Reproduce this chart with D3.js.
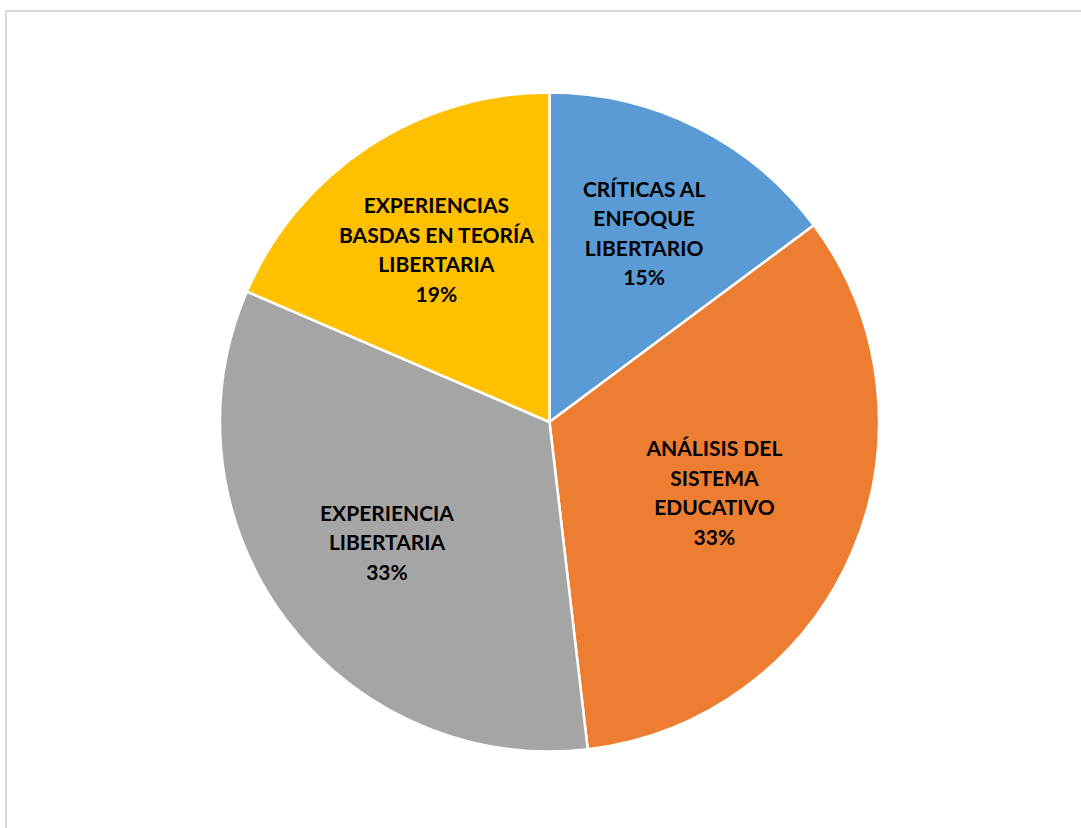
<!DOCTYPE html>
<html><head><meta charset="utf-8">
<script src="https://cdn.jsdelivr.net/npm/d3@7"></script>
<style>body{margin:0;background:#fff}svg{display:block}</style>
</head><body>
<svg id="c" width="1081" height="828"></svg>
<script>
const categories = ["CRÍTICAS AL ENFOQUE LIBERTARIO","ANÁLISIS DEL SISTEMA EDUCATIVO","EXPERIENCIA LIBERTARIA","EXPERIENCIAS BASDAS EN TEORÍA LIBERTARIA"];
const labelLines = [["CRÍTICAS AL","ENFOQUE","LIBERTARIO"],["ANÁLISIS DEL","SISTEMA","EDUCATIVO"],["EXPERIENCIA","LIBERTARIA"],["EXPERIENCIAS","BASDAS EN TEORÍA","LIBERTARIA"]];
const values = [8, 18, 18, 10];
const colors = ["#5B9BD5","#ED7D31","#A5A5A5","#FFC000"];

const svg = d3.select("#c");
svg.append("rect").attr("x",6).attr("y",11).attr("width",1100).attr("height",850)
  .attr("fill","#fff").attr("stroke","#d9d9d9").attr("stroke-width",2);

const cx = 549.5, cy = 422, R = 329.5;
const labelR = [0.64, 0.545, 0.615, 0.625];
const g = svg.append("g").attr("transform",`translate(${cx},${cy})`);
const pie = d3.pie().sort(null).value(d=>d)(values);
const arc = d3.arc().innerRadius(0).outerRadius(R);
g.selectAll("path").data(pie).join("path").attr("d",arc)
  .attr("fill",(d,i)=>colors[i]).attr("stroke","#fff").attr("stroke-width",2.5).attr("stroke-linejoin","round");

const total = d3.sum(values);
const lh = 29.6;
pie.forEach((d,i)=>{
  const r = R*labelR[i];
  const c = d3.arc().innerRadius(r).outerRadius(r).centroid(d);
  const lines = labelLines[i].concat([Math.round(values[i]/total*100)+"%"]);
  const t = g.append("text").attr("text-anchor","middle")
    .attr("font-family","Lato, 'Open Sans', sans-serif").attr("font-weight","bold")
    .attr("font-size",21).attr("fill","#000");
  lines.forEach((s,j)=>{
    t.append("tspan").attr("x",c[0]).attr("y",c[1]+(j-(lines.length-1)/2)*lh).attr("dy","0.35em").text(s);
  });
});
</script>
</body></html>
